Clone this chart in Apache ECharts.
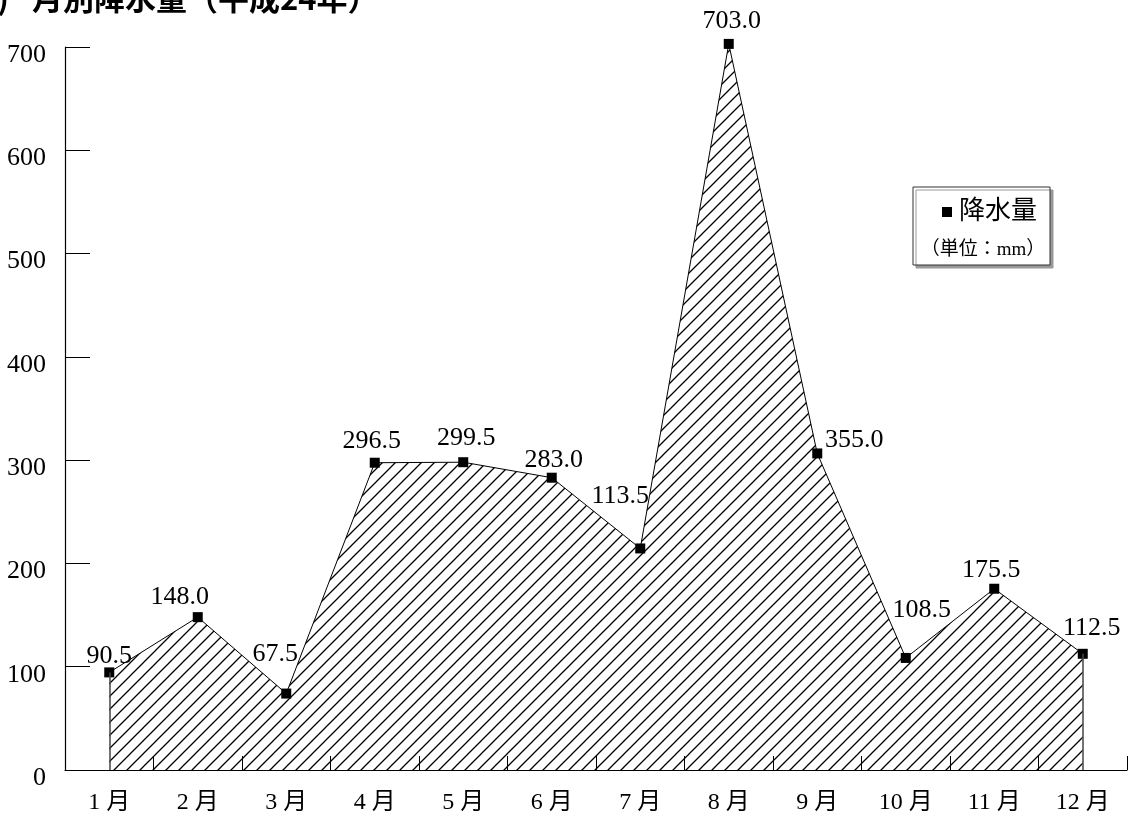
<!DOCTYPE html>
<html>
<head>
<meta charset="utf-8">
<script src="https://cdn.jsdelivr.net/npm/echarts@6/dist/echarts.min.js"></script>
<style>
html,body{margin:0;padding:0;background:#fff;}
#chart{width:1129px;height:820px;}
</style>
</head>
<body>
<div id="chart"></div>
<script>
// ---- data ----
const categories = ['1 月','2 月','3 月','4 月','5 月','6 月','7 月','8 月','9 月','10 月','11 月','12 月'];
// plotted positions
const values = [94.5, 148.0, 74.0, 297.5, 298.0, 283.0, 214.5, 703.0, 306.5, 108.5, 175.5, 112.5];
// printed data labels
const labelTexts = ['90.5','148.0','67.5','296.5','299.5','283.0','113.5','703.0','355.0','108.5','175.5','112.5'];
const yTicks = [0, 100, 200, 300, 400, 500, 600, 700];
const titlePrefix = '(2)';
const titleText = '月別降水量（平成24年）';
const legendName = '降水量';
const legendUnit = '（単位：mm）';

// ---- styling ----
const serif = "'Liberation Serif','Times New Roman','Noto Sans CJK JP',serif";
const labelOffsets = [[0,-16],[-18,-20],[-11,-39],[-3,-22],[3,-24],[2,-18],[-20,-52],[3,-23],[37,-13],[16,-48],[-3,-19],[9,-26]];

function hatch() {
  const s = 13;
  const c = document.createElement('canvas');
  c.width = s; c.height = s;
  const g = c.getContext('2d');
  g.strokeStyle = '#000';
  g.lineWidth = 1.3;
  g.beginPath();
  g.moveTo(-2, s + 2); g.lineTo(s + 2, -2);
  g.moveTo(-2, 2); g.lineTo(2, -2);
  g.moveTo(s - 2, s + 2); g.lineTo(s + 2, s - 2);
  g.stroke();
  return c;
}

const chart = echarts.init(document.getElementById('chart'), null, {renderer: 'canvas'});

const seriesData = values.map((v, i) => ({
  value: v,
  label: {
    formatter: labelTexts[i],
    offset: labelOffsets[i]
  }
}));

chart.setOption({
  animation: false,
  backgroundColor: '#fff',
  grid: {left: 65, right: 2, top: 47, bottom: 50, containLabel: false},
  xAxis: {
    type: 'category',
    data: categories,
    boundaryGap: true,
    axisLine: {show: true, lineStyle: {color: '#000', width: 1.2}},
    axisTick: {show: true, inside: true, length: 14, alignWithLabel: false, lineStyle: {color: '#000', width: 1}},
    axisLabel: {color: '#000', fontFamily: serif, fontSize: 24, margin: 21}
  },
  yAxis: {
    type: 'value',
    min: yTicks[0],
    max: yTicks[yTicks.length - 1],
    interval: 100,
    axisLine: {show: true, lineStyle: {color: '#000', width: 1.2}},
    axisTick: {show: true, inside: true, length: 25, lineStyle: {color: '#000', width: 1}},
    splitLine: {show: false},
    axisLabel: {color: '#000', fontFamily: serif, fontSize: 26, margin: 19, verticalAlign: 'top', lineHeight: 16}
  },
  series: [{
    name: legendName,
    type: 'line',
    data: seriesData,
    clip: false,
    symbol: 'rect',
    symbolSize: 10,
    itemStyle: {color: '#000'},
    lineStyle: {color: '#000', width: 1},
    areaStyle: {color: {image: hatch(), repeat: 'repeat'}, opacity: 1},
    label: {
      show: true,
      position: 'inside',
      align: 'center',
      verticalAlign: 'middle',
      color: '#000',
      fontFamily: serif,
      fontSize: 26
    },
    markLine: {
      silent: true,
      symbol: ['none', 'none'],
      label: {show: false},
      lineStyle: {color: '#444', width: 1.5, type: 'solid'},
      data: [
        [{coord: [0, 0]}, {coord: [0, values[0]]}],
        [{coord: [values.length - 1, 0]}, {coord: [values.length - 1, values[values.length - 1]]}]
      ]
    },
    z: 3
  }],
  graphic: [
    {
      type: 'text', x: 9, y: -17,
      style: {text: titlePrefix, fill: '#000', font: "bold 31px 'Noto Sans CJK JP', sans-serif", align: 'right', textAlign: 'right'}
    },
    {
      type: 'text', x: 32, y: -17,
      style: {text: titleText, fill: '#000', font: "bold 31px 'Noto Sans CJK JP', sans-serif"}
    },
    {
      type: 'rect', shape: {x: 913, y: 187, width: 137, height: 78},
      style: {fill: '#fff', stroke: '#333', lineWidth: 1, shadowColor: '#999', shadowOffsetX: 3, shadowOffsetY: 3, shadowBlur: 0},
      z: 10
    },
    {
      type: 'rect', shape: {x: 942, y: 207, width: 10, height: 10},
      style: {fill: '#000'}, z: 11
    },
    {
      type: 'text', x: 959, y: 212,
      style: {text: legendName, fill: '#000', font: "26px " + serif, textVerticalAlign: 'middle', verticalAlign: 'middle'},
      z: 11
    },
    {
      type: 'text', x: 983, y: 250,
      style: {text: legendUnit, fill: '#000', font: "19px " + serif, align: 'center', textAlign: 'center', verticalAlign: 'middle', textVerticalAlign: 'middle'},
      z: 11
    }
  ]
});
</script>
</body>
</html>
